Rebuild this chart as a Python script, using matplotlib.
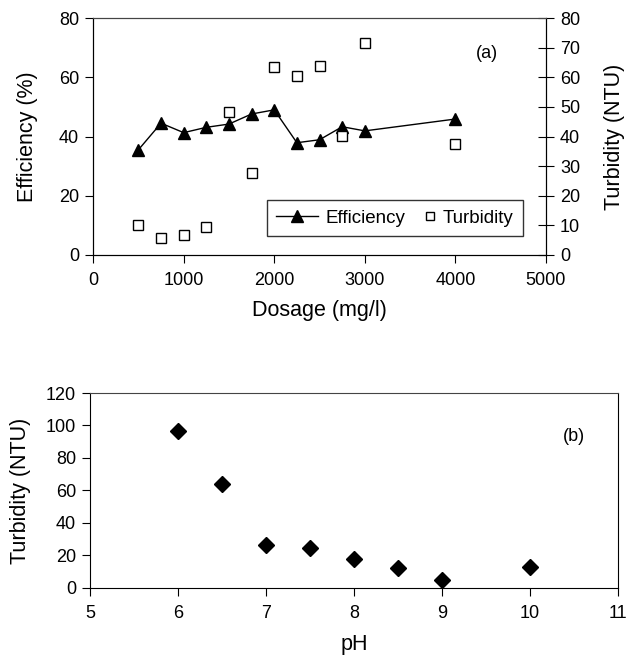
import matplotlib.pyplot as plt
from matplotlib.legend_handler import HandlerLine2D
from matplotlib.lines import Line2D

plt.rcParams['font.family'] = ['Liberation Sans', 'DejaVu Sans']

# panel (a)
dosage = [500, 750, 1000, 1250, 1500, 1750, 2000, 2250, 2500, 2750, 3000, 4000]
efficiency = [35.5, 44.5, 41.3, 43.1, 44.2, 47.6, 49.0, 37.9, 38.9, 43.3, 41.9, 45.9]
turbidity_a = [10.1, 5.6, 6.7, 9.6, 48.2, 27.6, 63.4, 60.5, 63.9, 40.2, 71.5, 37.4]

# panel (b)
ph = [6, 6.5, 7, 7.5, 8, 8.5, 9, 10]
turbidity_b = [96.7, 63.7, 26.4, 24.5, 17.9, 12.2, 4.8, 13.2]


class MarkerRight(HandlerLine2D):
    # single marker drawn at the right end of the handle, next to the text
    def get_xdata(self, legend, xdescent, ydescent, width, height, fontsize):
        m = -xdescent + width - 0.25 * fontsize
        return [m - 1, m + 1], [m]


fig = plt.figure(figsize=(6.29, 6.55), dpi=100)

ax1 = fig.add_axes([0.148, 0.6107, 0.72, 0.3618])
ax2 = ax1.twinx()
ln1, = ax1.plot(dosage, efficiency, color='black', lw=1, marker='^', ms=9,
                label='Efficiency')
ax2.plot(dosage, turbidity_a, ls='none', marker='s', ms=7.5, mfc='white',
         mec='black', mew=1)
sq = Line2D([], [], ls='none', marker='s', ms=6, mfc='white', mec='black',
            mew=1, label='Turbidity')
ax1.set_xlim(0, 5000)
ax1.set_ylim(0, 80)
ax2.set_ylim(0, 80)
ax1.set_xticks(range(0, 5001, 1000))
ax1.set_yticks(range(0, 81, 20))
ax2.set_yticks(range(0, 81, 10))
ax1.set_xlabel('Dosage (mg/l)', fontsize=15.5, labelpad=8)
ax1.set_ylabel('Efficiency (%)', fontsize=15.5, labelpad=15)
ax2.set_ylabel('Turbidity (NTU)', fontsize=15.5, labelpad=17)
ax1.tick_params(axis='x', direction='out', length=6, labelsize=13, pad=6)
ax1.tick_params(axis='y', direction='out', length=6, labelsize=13, pad=4)
ax2.tick_params(axis='y', direction='inout', length=12, labelsize=13, pad=4)
ax1.text(4350, 68, '(a)', fontsize=13, ha='center', va='center')
leg = ax1.legend(handles=[ln1, sq], loc='lower right', ncol=2, fontsize=13.5,
                 frameon=True, fancybox=False, edgecolor='black',
                 bbox_to_anchor=(0.969, 0.04), handlelength=2.2,
                 columnspacing=-0.6, handletextpad=0.4, borderpad=0.5,
                 handler_map={sq: MarkerRight()})
leg.get_frame().set_linewidth(1)
for ax in (ax1, ax2):
    ax.spines['top'].set_color('#444444')

ax3 = fig.add_axes([0.143, 0.1023, 0.8395, 0.2977])
ax3.plot(ph, turbidity_b, ls='none', marker='D', ms=8, color='black')
ax3.set_xlim(5, 11)
ax3.set_ylim(0, 120)
ax3.set_xticks(range(5, 12))
ax3.set_yticks(range(0, 121, 20))
ax3.set_xlabel('pH', fontsize=15.5, labelpad=9)
ax3.set_ylabel('Turbidity (NTU)', fontsize=15.5, labelpad=11)
ax3.tick_params(axis='x', direction='out', length=6, labelsize=13, pad=6)
ax3.tick_params(axis='y', direction='out', length=6, labelsize=13, pad=4)
ax3.spines['top'].set_color('#444444')
ax3.text(10.5, 93, '(b)', fontsize=13, ha='center', va='center')

fig.savefig('out.png', dpi=100)
